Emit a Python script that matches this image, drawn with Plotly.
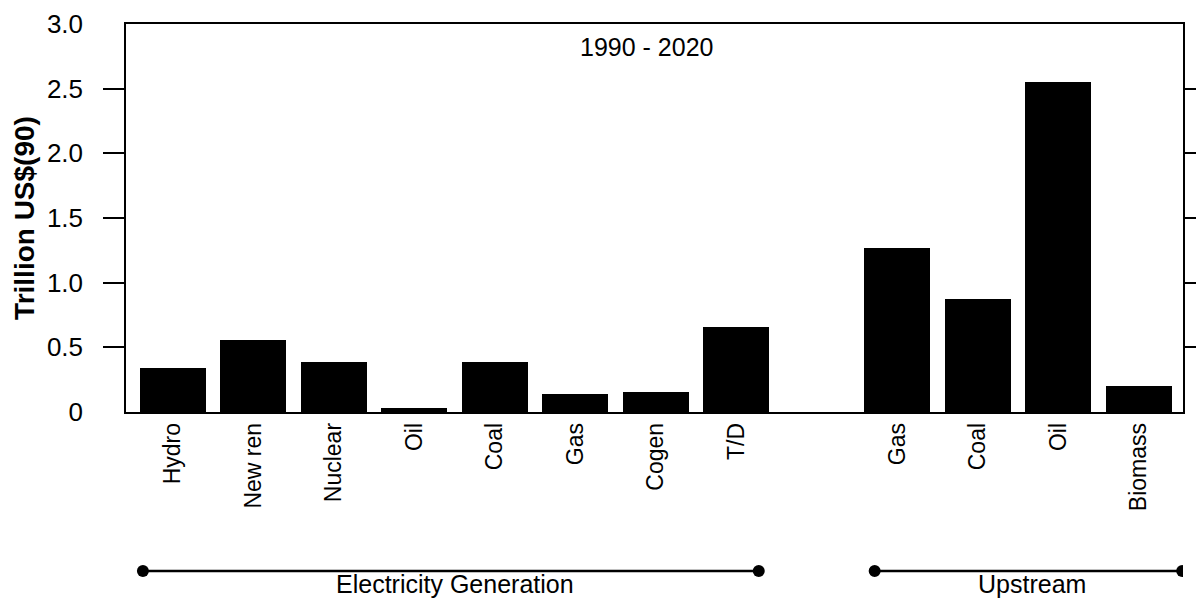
import plotly.graph_objects as go

# ---- data ----
elec_labels = ["Hydro", "New ren", "Nuclear", "Oil", "Coal", "Gas", "Cogen", "T/D"]
elec_values = [0.34, 0.56, 0.39, 0.03, 0.39, 0.14, 0.155, 0.66]
up_labels = ["Gas", "Coal", "Oil", "Biomass"]
up_values = [1.27, 0.87, 2.55, 0.20]
group_names = ["Electricity Generation", "Upstream"]
y_tick_vals = [0, 0.5, 1.0, 1.5, 2.0, 2.5, 3.0]
y_tick_text = ["0", "0.5", "1.0", "1.5", "2.0", "2.5", "3.0"]
period_label = "1990 - 2020"
y_title = "Trillion US$(90)"

FONT = "Liberation Sans, Arial, Helvetica, sans-serif"

elec_x = list(range(len(elec_labels)))
up_x = [len(elec_labels) + 1 + i for i in range(len(up_labels))]
all_x = elec_x + up_x
all_labels = elec_labels + up_labels
all_values = elec_values + up_values

fig = go.Figure()
fig.add_trace(go.Bar(x=all_x, y=all_values, width=0.82,
                     marker=dict(color="black", line=dict(width=0)),
                     showlegend=False, hoverinfo="x+y"))
# helper traces for tick-only axes
fig.add_trace(go.Scatter(x=[None], y=[None], yaxis="y2", showlegend=False, hoverinfo="skip"))
fig.add_trace(go.Scatter(x=[None], y=[None], yaxis="y3", showlegend=False, hoverinfo="skip"))

# group brackets (decoration)
groups = [(elec_x[0] - 0.37, elec_x[-1] + 0.28, group_names[0]),
          (up_x[0] - 0.28, up_x[-1] + 0.54, group_names[1])]
y_line = -0.41
for a, b, name in groups:
    fig.add_shape(type="line", xref="x", yref="paper", x0=a, x1=b, y0=y_line, y1=y_line,
                  line=dict(color="black", width=2.5))
    for xc in (a, b):
        fig.add_shape(type="circle", xref="x", yref="paper", xsizemode="pixel",
                      ysizemode="pixel", xanchor=xc, yanchor=y_line,
                      x0=-6, x1=6, y0=-6, y1=6,
                      fillcolor="black", line=dict(color="black", width=0))
    fig.add_annotation(x=(a + b) / 2 + 0.05, y=-0.4845, xref="x", yref="paper",
                       text=name, showarrow=False, yanchor="bottom",
                       font=dict(family=FONT, size=25, color="black"))

fig.add_annotation(x=0.492, y=0.941, xref="paper", yref="paper", yanchor="middle",
                   text=period_label, showarrow=False, xanchor="center",
                   font=dict(family=FONT, size=25, color="black"))

fig.update_layout(
    width=1196, height=600,
    margin=dict(l=126, r=13, t=24, b=188, autoexpand=False),
    paper_bgcolor="white", plot_bgcolor="white",
    bargap=0,
    xaxis=dict(range=[-0.58, 12.55], tickmode="array", tickvals=all_x, ticktext=all_labels,
               tickangle=-90, ticks="", showgrid=False, zeroline=False,
               showline=True, linecolor="black", linewidth=1.5, mirror=True,
               tickfont=dict(family=FONT, size=23, color="black")),
    yaxis=dict(range=[0, 3.0], tickmode="array", tickvals=y_tick_vals, ticktext=y_tick_text,
               ticks="", ticklabelstandoff=36, showgrid=False, zeroline=False,
               showline=True, linecolor="black", linewidth=1.5, mirror=True,
               tickfont=dict(family=FONT, size=26, color="black"),
               title=dict(text="<b>" + y_title + "</b>", standoff=4,
                          font=dict(family=FONT, size=28, color="black"))),
    yaxis2=dict(range=[0, 3.0], overlaying="y", side="left", tickmode="array",
                tickvals=y_tick_vals[1:-1], ticks="outside", ticklen=22, tickwidth=1.5,
                tickcolor="black", showticklabels=False, showgrid=False, zeroline=False,
                showline=False),
    yaxis3=dict(range=[0, 3.0], overlaying="y", side="right", tickmode="array",
                tickvals=y_tick_vals[1:-1], ticks="outside", ticklen=14, tickwidth=1.5,
                tickcolor="black", showticklabels=False, showgrid=False, zeroline=False,
                showline=False),
)
fig.write_html("out.html", post_script="document.body.style.margin='0';",
               config={"displayModeBar": False})
